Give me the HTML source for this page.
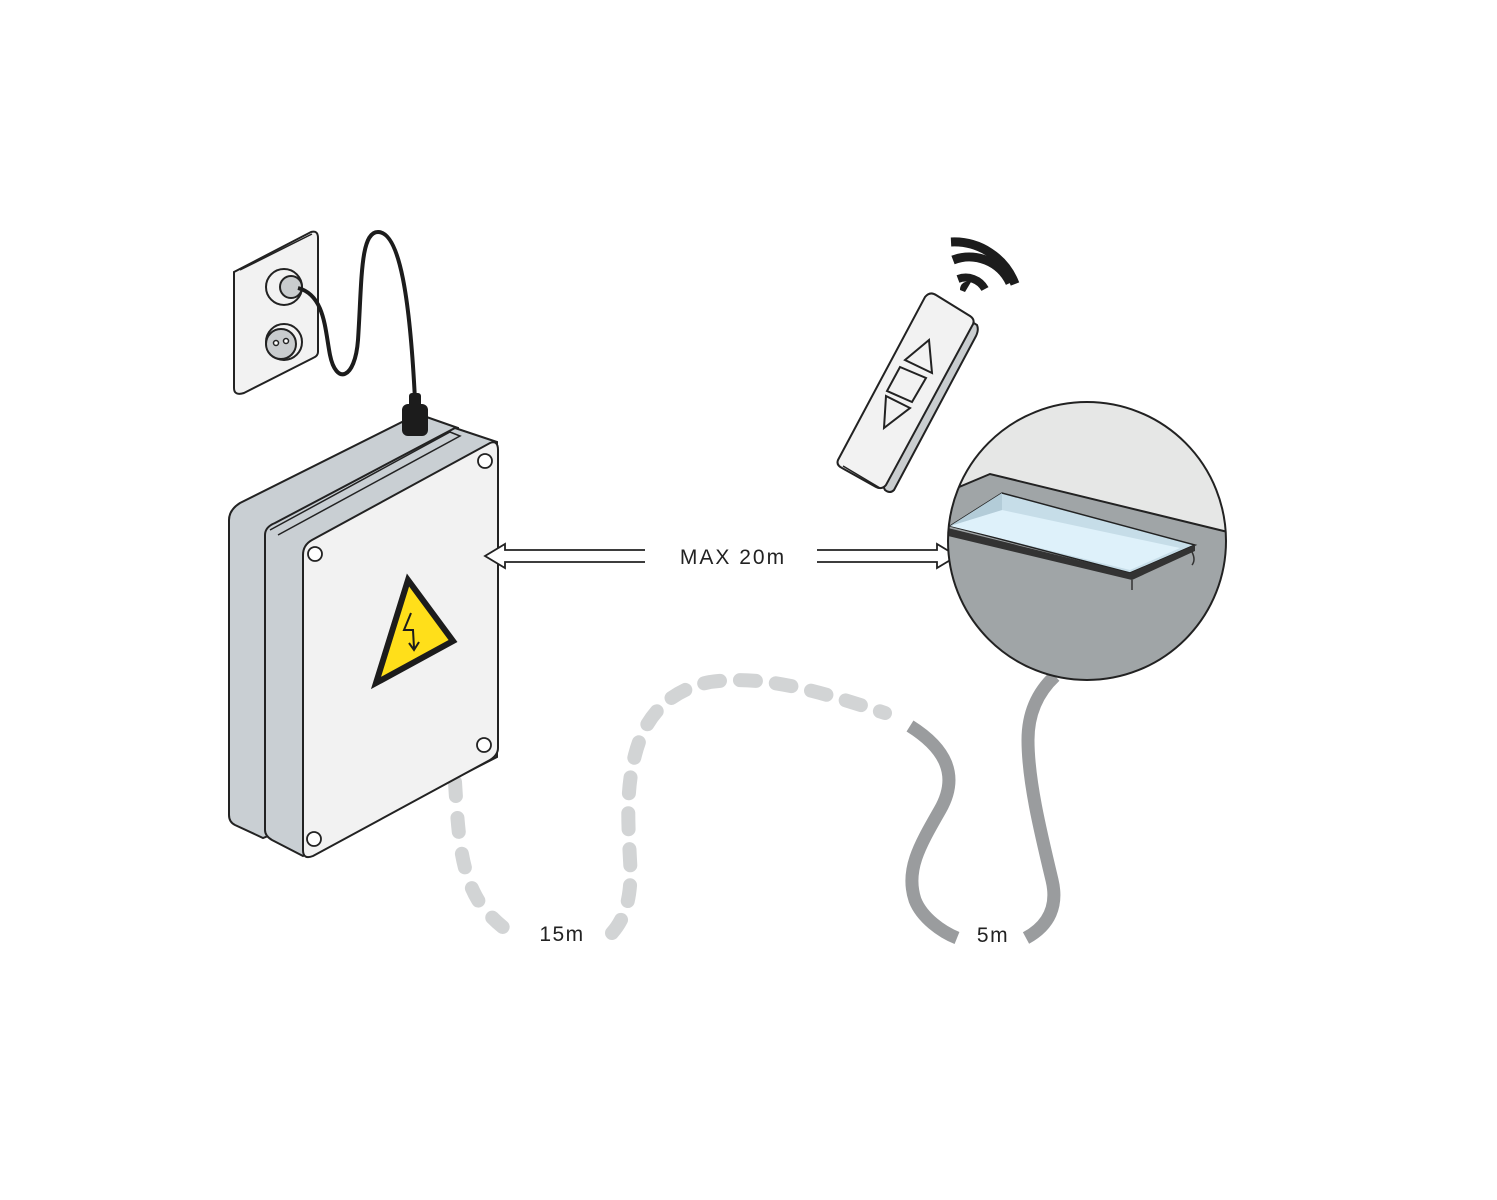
<!DOCTYPE html>
<html><head><style>
html,body{margin:0;padding:0;background:#fff;}
svg{display:block;}
text{font-family:"Liberation Sans",sans-serif;fill:#222;}
</style></head><body>
<svg width="1497" height="1200" viewBox="0 0 1497 1200" xmlns="http://www.w3.org/2000/svg">
<!-- cables bottom -->
<path d="M455,782 C458,830 460,870 478,900 C490,918 505,930 515,935" fill="none" stroke="#d2d4d5" stroke-width="14" stroke-linecap="round" stroke-dasharray="14,22"/>
<path d="M612,933 C628,915 632,890 630,860 C628,820 626,790 635,755 C645,715 670,690 710,682 C760,675 810,688 885,713" fill="none" stroke="#d2d4d5" stroke-width="14" stroke-linecap="round" stroke-dasharray="16,20"/>
<path d="M910,726 C945,748 960,775 940,810 C920,845 905,870 915,900 C922,918 942,932 957,938" fill="none" stroke="#9a9c9e" stroke-width="13"/>
<path d="M1026,938 C1050,925 1058,905 1052,880 C1040,830 1028,780 1028,740 C1028,710 1040,690 1055,676" fill="none" stroke="#9a9c9e" stroke-width="13"/>
<!-- socket plate -->
<path d="M234,272 L311,232 Q318,230 318,238 L318,352 Q318,356 313,358 L244,393 Q234,396 234,388 Z" fill="#f2f2f2" stroke="#222" stroke-width="2"/>
<path d="M240,270 L312,234" stroke="#222" stroke-width="1.5" fill="none"/>
<circle cx="284" cy="287" r="18" fill="#f2f2f2" stroke="#222" stroke-width="2"/>
<circle cx="291" cy="287" r="11" fill="#c9ccce" stroke="#222" stroke-width="2"/>
<circle cx="284" cy="342" r="18" fill="#f2f2f2" stroke="#222" stroke-width="2"/>
<circle cx="281" cy="344" r="15" fill="#c9ccce" stroke="#222" stroke-width="2"/>
<circle cx="276" cy="343" r="2.5" fill="#fff" stroke="#222" stroke-width="1.5"/>
<circle cx="286" cy="341" r="2.5" fill="#fff" stroke="#222" stroke-width="1.5"/>
<!-- cord -->
<path d="M298,288 C325,295 325,330 330,355 C336,385 355,380 358,340 C362,280 360,232 378,232 C400,232 410,300 415,400" fill="none" stroke="#1c1c1c" stroke-width="4"/>
<!-- box -->
<path d="M240,503 L418,414 L458,428 L458,760 L263,838 L235,825 Q229,822 229,815 L229,520 Q229,510 240,503 Z" fill="#c9cfd3" stroke="#222" stroke-width="2"/>
<path d="M275,523 L455,428 L497,442 L497,757 L303,856 L272,840 Q265,836 265,830 L265,535 Q265,527 275,523 Z" fill="#c9cfd3" stroke="#222" stroke-width="2"/>
<path d="M312,540 L490,443 Q498,440 498,450 L498,748 Q498,755 490,760 L313,856 Q303,860 303,850 L303,555 Q303,545 312,540 Z" fill="#f2f2f2" stroke="#222" stroke-width="2"/>
<path d="M270,530 L450,432 L460,436 L278,535" fill="none" stroke="#222" stroke-width="1.5"/>
<circle cx="485" cy="461" r="7" fill="#fff" stroke="#222" stroke-width="1.8"/>
<circle cx="315" cy="554" r="7" fill="#fff" stroke="#222" stroke-width="1.8"/>
<circle cx="484" cy="745" r="7" fill="#fff" stroke="#222" stroke-width="1.8"/>
<circle cx="314" cy="839" r="7" fill="#fff" stroke="#222" stroke-width="1.8"/>
<path d="M408,580 L453,641 L376,683 Z" fill="#ffdf1a" stroke="#1c1c1c" stroke-width="6" stroke-linejoin="miter"/>
<path d="M411,613 L404,630 L413,630 L414,648 M409,643 L414,650 L419,642" fill="none" stroke="#1c1c1c" stroke-width="2"/>
<!-- plug -->
<rect x="409" y="393" width="12" height="14" rx="3" fill="#1c1c1c"/>
<rect x="402" y="404" width="26" height="32" rx="6" fill="#1c1c1c"/>
<!-- arrows -->
<path d="M645,550 L505,550 L505,544 L485,556 L505,568 L505,562 L645,562" fill="#fff" stroke="#222" stroke-width="1.8"/>
<path d="M817,550 L937,550 L937,544 L957,556 L937,568 L937,562 L817,562" fill="#fff" stroke="#222" stroke-width="1.8"/>
<text x="733" y="564" font-size="21" text-anchor="middle" letter-spacing="2">MAX 20m</text>
<text x="562" y="941" font-size="21" text-anchor="middle" letter-spacing="1.5">15m</text>
<text x="993" y="942" font-size="21" text-anchor="middle" letter-spacing="1.5">5m</text>
<!-- wifi -->
<path d="M960,290 A8,8 0 0 1 971,282 L965,292 Z" fill="#1c1c1c"/>
<path d="M958,279 A22,22 0 0 1 985,289" fill="none" stroke="#1c1c1c" stroke-width="8"/>
<path d="M953,260 A45,45 0 0 1 1010,283" fill="none" stroke="#1c1c1c" stroke-width="9"/>
<path d="M951,242 A65,65 0 0 1 1015,284" fill="none" stroke="#1c1c1c" stroke-width="9"/>
<!-- remote -->
<path d="M969,320 L977,325 Q979,330 976,336 L894,490 Q890,494 885,490 L880,480 Z" fill="#c9cdcf" stroke="#222" stroke-width="2"/>
<path d="M838,460 L925,297 Q930,291 936,295 L970,316 Q976,320 972,326 L886,485 Q882,490 876,487 L842,468 Q836,465 838,460 Z" fill="#f2f2f2" stroke="#222" stroke-width="2"/>
<path d="M843,466 L880,488" fill="none" stroke="#222" stroke-width="1.5"/>
<path d="M905,360 L929,340 L932,373 Z" fill="none" stroke="#222" stroke-width="2"/>
<path d="M900,367 L926,378 L912,402 L887,391 Z" fill="none" stroke="#222" stroke-width="2"/>
<path d="M886,396 L910,408 L884,428 Z" fill="none" stroke="#222" stroke-width="2"/>
<!-- magnifier -->
<defs><clipPath id="c"><circle cx="1087" cy="541" r="139"/></clipPath></defs>
<g clip-path="url(#c)">
<rect x="940" y="400" width="300" height="290" fill="#e6e7e6"/>
<path d="M940,495 L990,474 L1240,535 L1240,690 L940,690 Z" fill="#a0a5a7"/>
<path d="M940,495 L990,474 L1240,535" fill="none" stroke="#222" stroke-width="2"/>
<path d="M950,526 L1002,493 L1195,545 L1130,573 Z" fill="#c6dde8" stroke="#222" stroke-width="1.5"/>
<path d="M950,526 L1002,510 L1180,548 L1130,570 Z" fill="#def1fa"/>
<path d="M1002,493 L1002,510 L950,526" fill="#b3ccd8"/>
<path d="M948,528 L1130,573 L1195,545 L1195,551 L1132,580 L948,536 Z" fill="#333" />
<path d="M1132,580 L1132,590 M1192,552 Q1196,560 1192,565" fill="none" stroke="#333" stroke-width="1.5"/>
</g>
<circle cx="1087" cy="541" r="139" fill="none" stroke="#222" stroke-width="2"/>
</svg>
</body></html>
